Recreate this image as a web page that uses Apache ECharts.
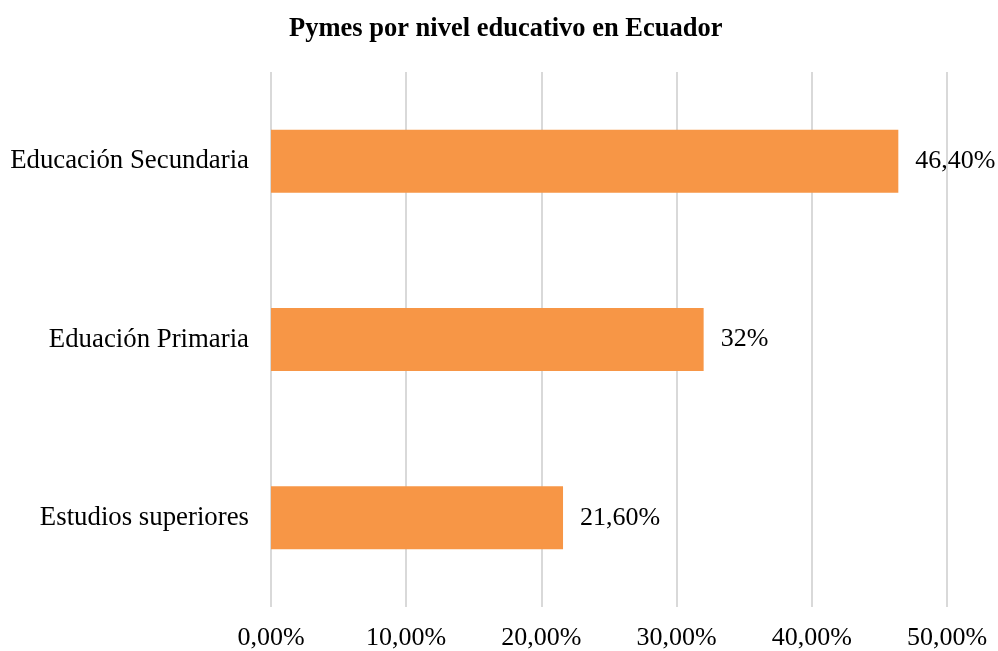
<!DOCTYPE html>
<html>
<head>
<meta charset="utf-8">
<script src="https://cdn.jsdelivr.net/npm/echarts@6/dist/echarts.min.js"></script>
<style>
  html, body { margin: 0; padding: 0; background: #fff; }
  #chart { width: 998px; height: 651px; }
</style>
</head>
<body>
<div id="chart"></div>
<script>
// datos
const categorias = ['Estudios superiores', 'Eduación Primaria', 'Educación Secundaria']
const valores = [21.6, 32, 46.4]
const etiquetas = ['21,60%', '32%', '46,40%']
const ticksX = [0, 10, 20, 30, 40, 50]

const FONT = '"Liberation Serif", "Times New Roman", serif'
const FS = 26

const chart = echarts.init(document.getElementById('chart'))

chart.setOption({
  animation: false,
  title: {
    text: 'Pymes por nivel educativo en Ecuador',
    left: 284,
    top: 11,
    textStyle: { fontFamily: FONT, fontSize: 26.5, fontWeight: 'bold', color: '#000' }
  },
  grid: { left: 271, right: 51, top: 72, bottom: 44 },
  xAxis: {
    type: 'value',
    min: ticksX[0],
    max: ticksX[ticksX.length - 1],
    interval: 10,
    axisLine: { show: false },
    axisTick: { show: false },
    splitLine: { lineStyle: { color: '#d9d9d9', width: 2 } },
    axisLabel: {
      margin: 18,
      fontFamily: FONT,
      fontSize: FS,
      color: '#000',
      formatter: v => v.toFixed(2).replace('.', ',') + '%'
    }
  },
  yAxis: {
    type: 'category',
    data: categorias,
    axisLine: { show: false },
    axisTick: { show: false },
    axisLabel: { margin: 22, fontFamily: FONT, fontSize: 26.8, color: '#000' }
  },
  series: [{
    type: 'bar',
    data: valores,
    barWidth: 63,
    itemStyle: { color: '#f79646' },
    label: {
      show: true,
      position: 'right',
      distance: 17,
      fontFamily: FONT,
      fontSize: FS,
      color: '#000',
      formatter: p => etiquetas[p.dataIndex]
    }
  }]
})
</script>
</body>
</html>
